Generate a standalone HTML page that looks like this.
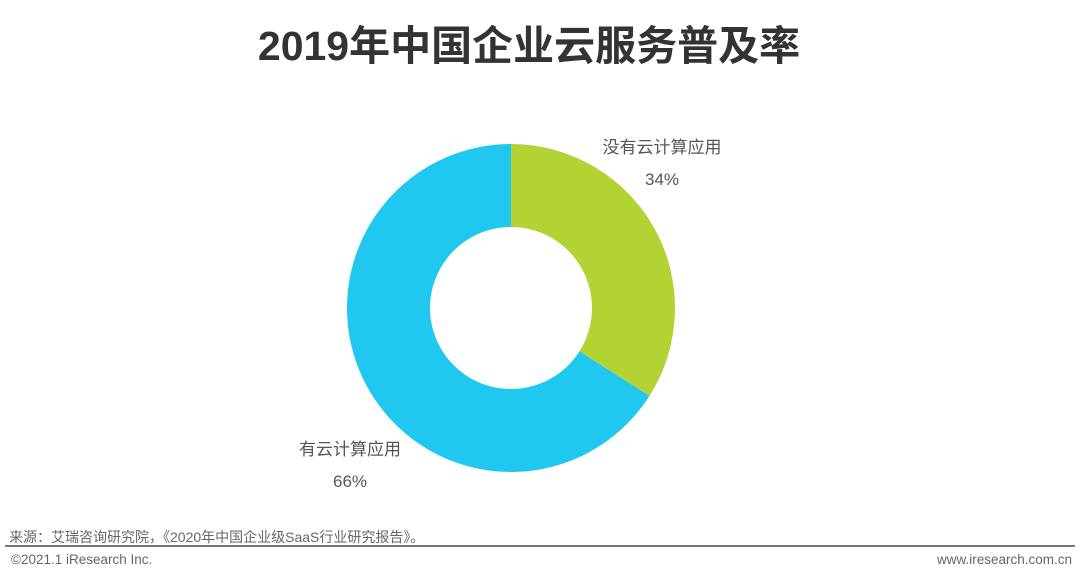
<!DOCTYPE html>
<html><head><meta charset="utf-8"><style>
body{margin:0;width:1080px;height:581px;background:#fff;overflow:hidden;font-family:"Liberation Sans","Noto Sans CJK SC",sans-serif;position:relative}
.t{position:absolute;white-space:nowrap}
</style></head><body>
<div class="t" style="left:0;width:1058px;text-align:center;top:12px;font-size:41px;font-weight:bold;color:#333">2019年中国企业云服务普及率</div>
<svg id="c" width="1080" height="581" style="position:absolute;left:0;top:0"></svg>
<div class="t" style="left:9px;top:527px;font-size:14px;color:#666">来源：艾瑞咨询研究院，《2020年中国企业级SaaS行业研究报告》。</div>
<div style="position:absolute;left:5px;right:5px;top:545px;height:2px;background:#777"></div>
<div class="t" style="left:11px;top:552px;font-size:13.5px;color:#666">©2021.1 iResearch Inc.</div>
<div class="t" style="right:8px;top:552px;font-size:13.5px;color:#666">www.iresearch.com.cn</div>
<script>
const categories=["没有云计算应用","有云计算应用"];
const values=[34,66];
const colors=["#b3d334","#20c8f0"];
const svg=document.getElementById('c');
const cx=511,cy=308,R=164,r=81;
const total=values.reduce((a,b)=>a+b,0);
let a0=0;
const ns="http://www.w3.org/2000/svg";
function pt(rad,a){return [cx+rad*Math.sin(a),cy-rad*Math.cos(a)];}
values.forEach((v,i)=>{
  const a1=a0+v/total*2*Math.PI;
  const large=(a1-a0)>Math.PI?1:0;
  const [x0,y0]=pt(R,a0),[x1,y1]=pt(R,a1),[x2,y2]=pt(r,a1),[x3,y3]=pt(r,a0);
  const p=document.createElementNS(ns,'path');
  p.setAttribute('d',`M${x0},${y0}A${R},${R} 0 ${large} 1 ${x1},${y1}L${x2},${y2}A${r},${r} 0 ${large} 0 ${x3},${y3}Z`);
  p.setAttribute('fill',colors[i]);
  
  
  svg.appendChild(p);
  a0=a1;
});
const labelPos=[[662,153],[350,455]];
values.forEach((v,i)=>{
  const [lx,ly]=labelPos[i];
  const t1=document.createElementNS(ns,'text');
  t1.setAttribute('x',lx);t1.setAttribute('y',ly);t1.setAttribute('text-anchor','middle');
  t1.setAttribute('font-size','17');t1.setAttribute('fill','#555');
  t1.textContent=categories[i];
  
  
  svg.appendChild(t1);
  const t2=document.createElementNS(ns,'text');
  t2.setAttribute('x',lx);t2.setAttribute('y',ly+32);t2.setAttribute('text-anchor','middle');
  t2.setAttribute('font-size','17');t2.setAttribute('fill','#555');
  t2.textContent=v+'%';
  
  
  svg.appendChild(t2);
});
</script>
</body></html>
